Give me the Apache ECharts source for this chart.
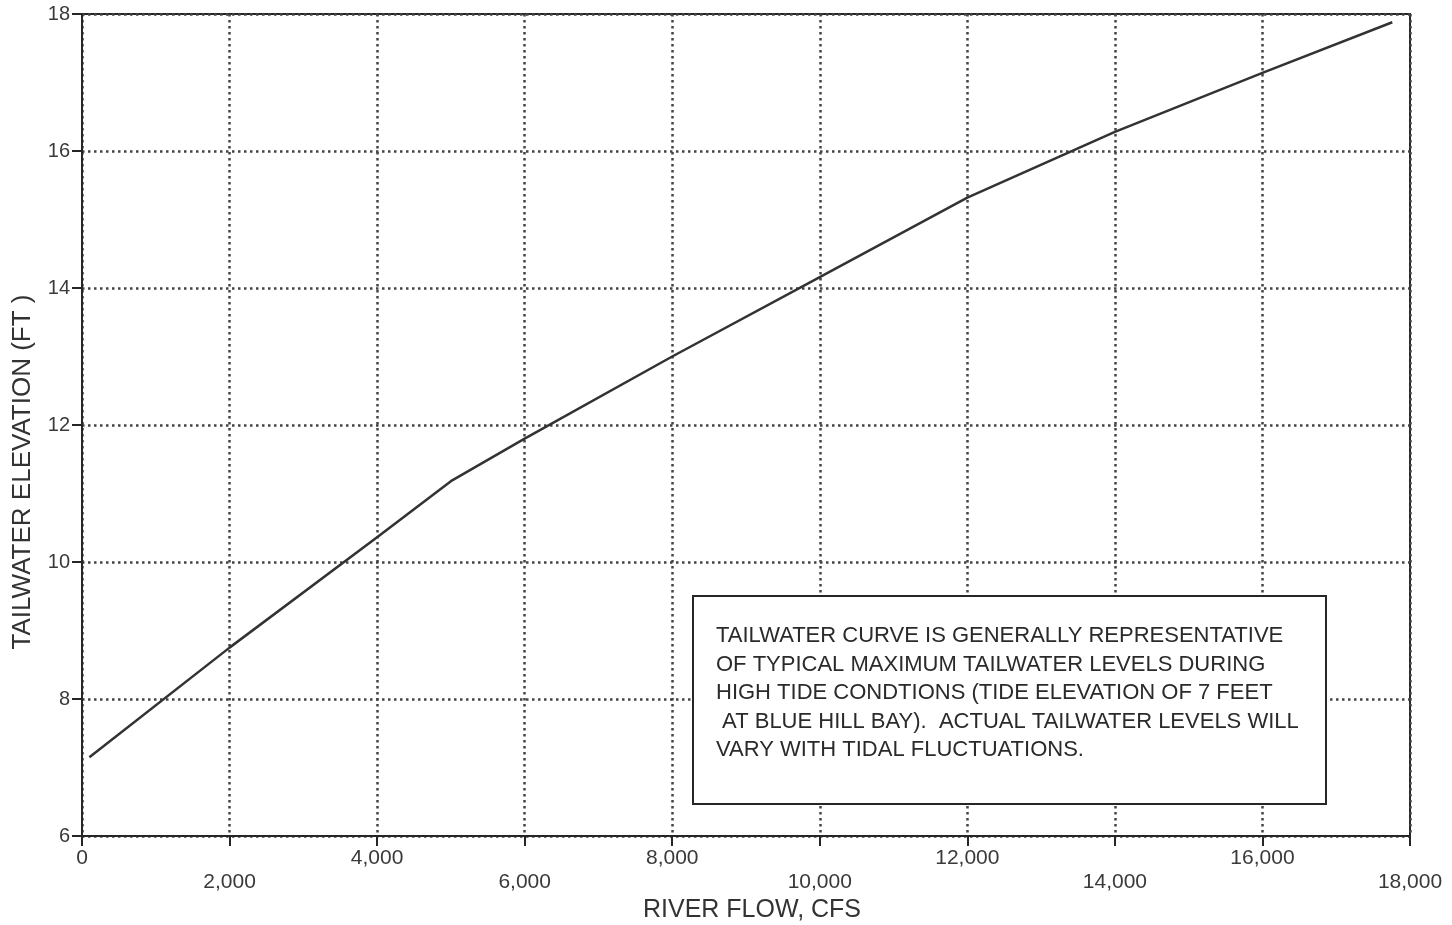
<!DOCTYPE html>
<html>
<head>
<meta charset="utf-8">
<script src="https://cdn.jsdelivr.net/npm/echarts@6/dist/echarts.min.js"></script>
<style>
html,body{margin:0;padding:0;background:#fff;}
#chart{width:1452px;height:925px;}
</style>
</head>
<body>
<div id="chart"></div>
<script>
// River flow (cfs) and tailwater elevation (ft)
var flowCfs = [100, 2000, 4000, 5000, 6000, 8000, 10000, 12000, 14000, 16000, 17760];
var tailwaterFt = [7.15, 8.75, 10.36, 11.18, 11.8, 13.0, 14.16, 15.32, 16.28, 17.14, 17.88];
var xTickValues = [0, 2000, 4000, 6000, 8000, 10000, 12000, 14000, 16000, 18000];
var yTickValues = [6, 8, 10, 12, 14, 16, 18];
var noteLines = [
  "TAILWATER CURVE IS GENERALLY REPRESENTATIVE",
  "OF TYPICAL MAXIMUM TAILWATER LEVELS DURING",
  "HIGH TIDE CONDTIONS (TIDE ELEVATION OF 7 FEET",
  " AT BLUE HILL BAY).  ACTUAL TAILWATER LEVELS WILL",
  "VARY WITH TIDAL FLUCTUATIONS."
];
var xName = "RIVER FLOW, CFS";
var yName = "TAILWATER ELEVATION (FT )";

var FONT = "'Liberation Sans', Arial, sans-serif";
var INK = '#262626';
var GRIDINK = '#444';

function fmt(v){ return v.toLocaleString('en-US'); }

var chart = echarts.init(document.getElementById('chart'));

var noteGraphics = [{
  type: 'rect',
  left: 692, top: 595,
  shape: {width: 633, height: 208},
  style: {fill: '#fff', stroke: INK, lineWidth: 2},
  z: 100
}];
noteLines.forEach(function(t, i){
  noteGraphics.push({
    type: 'text',
    x: 716, y: 636 + i * 28.5,
    style: {text: t, font: '22px ' + FONT, fill: '#2a2a2a', verticalAlign: 'middle'},
    z: 101
  });
});

chart.setOption({
  backgroundColor: '#fff',
  animation: false,
  grid: {left: 82, right: 42, top: 14, bottom: 89, containLabel: false, outerBoundsMode: 'none',
         show: true, borderColor: INK, borderWidth: 2, backgroundColor: 'transparent'},
  xAxis: {
    type: 'value', min: 0, max: 18000, interval: 2000,
    name: xName, nameLocation: 'middle', nameGap: 57,
    nameTextStyle: {fontFamily: FONT, fontSize: 25, color: '#333', padding: [0, 0, 0, 12]},
    axisLine: {show: true, lineStyle: {color: INK, width: 2}},
    axisTick: {show: true, length: 10, lineStyle: {color: INK, width: 2}},
    axisLabel: {
      margin: 12, color: '#3a3a3a', fontFamily: FONT, fontSize: 21,
      formatter: function(v){
        var i = xTickValues.indexOf(v);
        return (i % 2 === 1 ? '{lo|' : '{hi|') + fmt(v) + '}';
      },
      rich: {
        hi: {fontFamily: FONT, fontSize: 21, color: '#3a3a3a'},
        lo: {fontFamily: FONT, fontSize: 21, color: '#3a3a3a', padding: [24, 0, 0, 0]}
      }
    },
    splitLine: {show: true, lineStyle: {color: GRIDINK, width: 2.5, type: [2.5, 3.5]}}
  },
  yAxis: {
    type: 'value', min: 6, max: 18, interval: 2,
    name: yName, nameLocation: 'middle', nameGap: 46, nameRotate: 90,
    nameTextStyle: {fontFamily: FONT, fontSize: 26, color: '#333', padding: [0, 94, 0, 0]},
    axisLine: {show: true, lineStyle: {color: INK, width: 2}},
    axisTick: {show: true, length: 10, lineStyle: {color: INK, width: 2}},
    axisLabel: {
      margin: 12, color: '#3a3a3a', fontFamily: FONT, fontSize: 20,
      formatter: function(v){ return yTickValues.indexOf(v) >= 0 ? String(v) : ''; }
    },
    splitLine: {show: true, lineStyle: {color: GRIDINK, width: 2.5, type: [2.5, 3.5]}}
  },
  series: [{
    type: 'line',
    data: flowCfs.map(function(x, i){ return [x, tailwaterFt[i]]; }),
    showSymbol: false,
    lineStyle: {color: '#333', width: 2.5},
    z: 5
  }],
  graphic: noteGraphics
});
</script>
</body>
</html>
